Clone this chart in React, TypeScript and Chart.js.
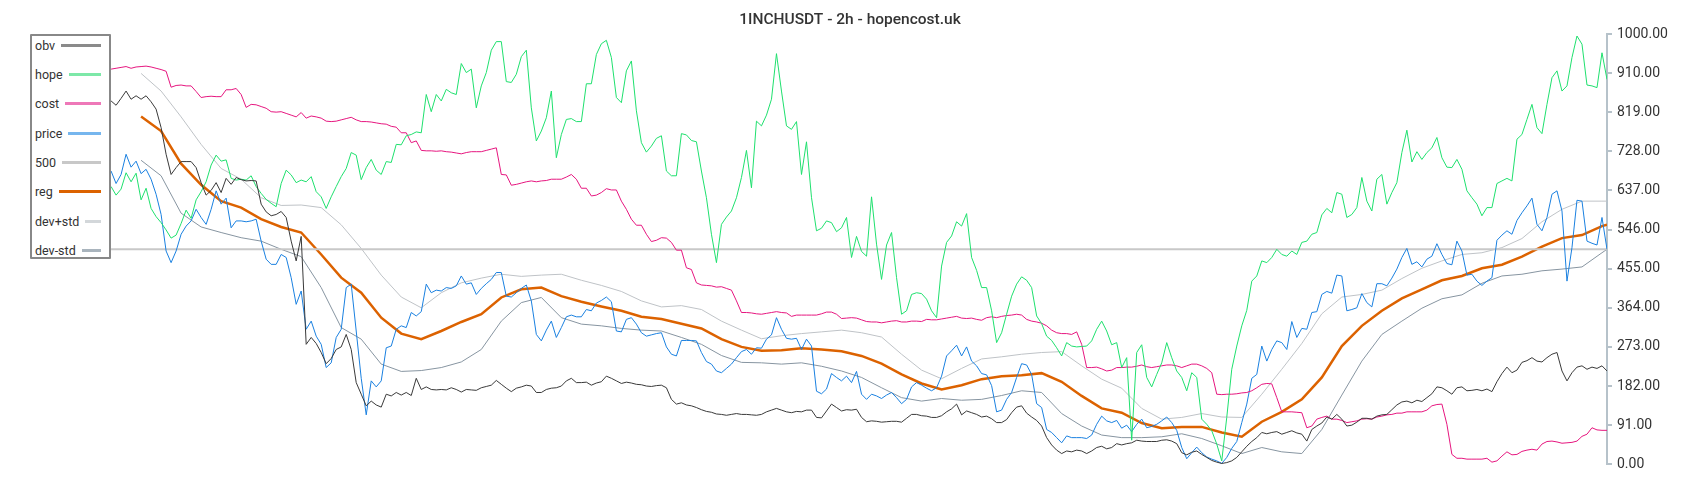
import React, { useEffect, useRef } from "react";
import { Chart, registerables } from "chart.js";

Chart.register(...registerables);
Chart.defaults.font.family = "Roboto, 'Noto Sans', sans-serif";

const TITLE = "1INCHUSDT - 2h - hopencost.uk";

const obv = [
  845, 835, 851, 868, 849, 857, 849, 857, 843, 826,
  783, 721, 674, 690, 704, 704, 704, 690, 655, 626,
  637, 655, 632, 665, 651, 667, 662, 659, 660, 659,
  605, 587, 578, 581, 588, 574, 519, 473, 530, 279,
  295, 281, 260, 234, 246, 267, 273, 302, 267, 190,
  163, 136, 147, 138, 133, 163, 159, 167, 161, 167,
  160, 200, 174, 180, 174, 173, 174, 173, 178, 174,
  168, 174, 173, 172, 178, 181, 184, 195, 186, 177,
  169, 177, 180, 184, 182, 167, 167, 174, 177, 178,
  182, 194, 200, 190, 190, 191, 184, 189, 192, 205,
  200, 194, 188, 191, 189, 186, 185, 182, 181, 183,
  184, 178, 151, 140, 143, 138, 136, 132, 127, 123,
  121, 117, 116, 114, 116, 118, 116, 116, 115, 114,
  116, 122, 126, 130, 126, 122, 120, 123, 122, 126,
  126, 109, 108, 124, 140, 132, 124, 127, 126, 128,
  109, 99, 101, 100, 98, 99, 100, 100, 98, 107,
  116, 116, 113, 112, 109, 109, 113, 122, 129, 140,
  115, 124, 120, 116, 110, 112, 106, 97, 97, 104,
  120, 133, 136, 119, 110, 102, 89, 62, 45, 33,
  25, 31, 29, 33, 31, 25, 31, 39, 42, 36,
  39, 48, 45, 48, 50, 56, 54, 53, 53, 53,
  56, 57, 54, 48, 27, 22, 28, 31, 23, 16,
  9, 5, 2, 4, 8, 16, 29, 42, 53, 62,
  74, 71, 74, 76, 70, 74, 78, 73, 70, 54,
  81, 89, 96, 110, 105, 116, 105, 89, 91, 98,
  107, 107, 105, 112, 115, 116, 127, 138, 145, 147,
  143, 149, 146, 155, 164, 180, 178, 171, 163, 178,
  180, 171, 172, 174, 171, 175, 169, 192, 211, 226,
  213, 219, 237, 241, 248, 240, 238, 248, 256, 260,
  217, 194, 213, 226, 229, 221, 226, 223, 229, 217,
];

const hope = [
  646, 626, 640, 678, 657, 677, 615, 642, 595, 576,
  562, 545, 526, 533, 560, 591, 572, 615, 634, 657,
  696, 719, 705, 708, 665, 661, 663, 661, 671, 646,
  630, 616, 607, 599, 653, 684, 673, 655, 661, 657,
  669, 634, 622, 595, 622, 646, 669, 688, 725, 719,
  662, 690, 709, 684, 674, 704, 702, 744, 743, 764,
  767, 773, 771, 860, 820, 860, 845, 872, 864, 860,
  932, 911, 919, 829, 880, 911, 963, 983, 983, 890,
  888, 907, 948, 963, 829, 752, 775, 806, 868, 713,
  767, 802, 804, 797, 797, 885, 885, 953, 978, 986,
  946, 853, 841, 915, 938, 822, 748, 726, 740, 758,
  764, 682, 671, 671, 769, 766, 753, 750, 682, 620,
  535, 469, 558, 575, 589, 620, 667, 730, 643, 798,
  787, 812, 849, 955, 868, 787, 779, 797, 674, 750,
  620, 543, 549, 566, 562, 541, 550, 574, 481, 530,
  495, 484, 622, 512, 430, 510, 539, 434, 349, 357,
  395, 399, 397, 384, 357, 341, 461, 516, 531, 564,
  554, 583, 481, 451, 411, 411, 357, 283, 306, 349,
  391, 419, 436, 428, 411, 345, 327, 298, 288, 271,
  252, 283, 275, 273, 274, 275, 287, 314, 333, 310,
  278, 283, 225, 248, 56, 260, 278, 202, 180, 209,
  236, 283, 248, 217, 202, 171, 213, 202, 105, 93,
  78, 47, 8, 109, 221, 275, 322, 358, 426, 438,
  473, 469, 481, 500, 488, 484, 496, 488, 516, 519,
  535, 539, 580, 595, 585, 632, 628, 574, 581, 597,
  667, 612, 589, 663, 674, 605, 632, 655, 725, 777,
  703, 727, 709, 725, 736, 760, 713, 691, 690, 709,
  686, 636, 620, 605, 578, 597, 597, 653, 659, 665,
  659, 756, 767, 802, 837, 783, 769, 837, 899, 915,
  868, 880, 946, 996, 977, 882, 880, 876, 957, 895,
];

const cost = [
  919, 921, 923, 925, 921, 924, 925, 926, 924, 921,
  918, 914, 877, 881, 882, 880, 880, 867, 853, 855,
  856, 855, 855, 871, 871, 874, 860, 830, 837, 836,
  832, 828, 820, 819, 820, 816, 812, 808, 818, 805,
  810, 808, 805, 798, 797, 798, 801, 804, 807, 801,
  797, 797, 796, 794, 792, 791, 786, 784, 771, 771,
  748, 752, 730, 729, 729, 728, 729, 727, 726, 724,
  722, 725, 727, 727, 727, 730, 733, 736, 674, 673,
  649, 651, 654, 657, 659, 657, 659, 660, 663, 663,
  663, 668, 674, 663, 642, 642, 624, 626, 632, 641,
  638, 638, 612, 593, 570, 556, 556, 535, 518, 521,
  527, 526, 516, 498, 498, 457, 453, 422, 417, 416,
  415, 412, 413, 409, 405, 380, 353, 353, 352, 350,
  349, 351, 353, 355, 353, 352, 344, 347, 347, 347,
  347, 347, 350, 354, 354, 349, 339, 340, 341, 340,
  336, 332, 331, 331, 329, 331, 333, 334, 331, 331,
  333, 333, 332, 337, 336, 336, 338, 340, 342, 344,
  340, 339, 340, 337, 335, 341, 343, 341, 344, 346,
  347, 349, 347, 337, 333, 331, 328, 322, 312, 306,
  304, 304, 302, 308, 279, 225, 225, 226, 222, 217,
  219, 225, 225, 226, 226, 228, 231, 227, 225, 227,
  229, 231, 231, 229, 225, 229, 233, 233, 229, 223,
  213, 163, 162, 163, 163, 164, 166, 167, 171, 178,
  186, 188, 187, 155, 122, 122, 122, 121, 120, 85,
  89, 105, 109, 112, 105, 105, 102, 97, 99, 101,
  105, 106, 105, 110, 112, 115, 116, 119, 119, 122,
  122, 122, 122, 126, 136, 139, 140, 93, 23, 14,
  14, 12, 12, 12, 12, 14, 5, 8, 19, 29,
  22, 23, 30, 33, 35, 33, 47, 53, 54, 52,
  49, 50, 51, 54, 65, 70, 85, 80, 79, 79,
];

const price = [
  682, 653, 674, 721, 691, 705, 676, 686, 663, 628,
  581, 496, 469, 496, 535, 554, 566, 593, 574, 558,
  593, 636, 605, 619, 550, 566, 566, 564, 566, 570,
  519, 477, 465, 465, 488, 481, 434, 372, 403, 314,
  333, 298, 279, 225, 236, 295, 314, 411, 419, 310,
  200, 115, 194, 180, 194, 271, 275, 314, 322, 318,
  353, 345, 355, 419, 399, 405, 403, 411, 409, 415,
  438, 419, 422, 395, 409, 420, 430, 446, 446, 391,
  389, 399, 409, 417, 380, 302, 287, 312, 333, 295,
  318, 343, 347, 343, 343, 360, 357, 375, 381, 389,
  378, 310, 308, 337, 341, 326, 306, 298, 301, 304,
  306, 273, 256, 252, 288, 288, 288, 287, 260, 239,
  233, 217, 213, 223, 233, 248, 262, 267, 256, 271,
  270, 291, 301, 341, 314, 293, 291, 293, 267, 291,
  275, 170, 164, 175, 211, 202, 194, 205, 190, 216,
  163, 151, 163, 159, 153, 161, 167, 155, 141, 151,
  180, 190, 184, 177, 171, 178, 205, 252, 264, 277,
  252, 273, 240, 229, 211, 208, 183, 122, 126, 151,
  167, 202, 234, 231, 209, 141, 132, 81, 74, 62,
  50, 66, 62, 62, 62, 60, 68, 93, 112, 101,
  97, 102, 84, 91, 76, 93, 105, 85, 88, 93,
  101, 110, 97, 79, 39, 13, 27, 40, 27, 17,
  12, 8, 2, 16, 37, 53, 97, 140, 200, 209,
  275, 240, 267, 287, 283, 267, 332, 295, 316, 314,
  353, 355, 395, 402, 398, 440, 438, 357, 360, 364,
  397, 376, 366, 420, 420, 415, 433, 454, 481, 502,
  465, 471, 459, 477, 484, 513, 488, 467, 464, 519,
  496, 440, 442, 426, 416, 426, 434, 521, 533, 543,
  535, 567, 585, 601, 619, 558, 543, 574, 628, 636,
  589, 426, 504, 614, 612, 519, 514, 510, 574, 500,
];

// indices (bars) at which the smooth series were read
const smoothIdx = [
  6, 10, 14, 18, 22, 26, 30, 34, 38, 42,
  46, 50, 54, 58, 62, 66, 70, 74, 78, 82,
  86, 90, 94, 98, 102, 106, 110, 114, 118, 122,
  126, 130, 134, 138, 142, 146, 150, 154, 158, 162,
  166, 170, 174, 178, 182, 186, 190, 194, 198, 202,
  206, 210, 214, 218, 222, 226, 230, 234, 238, 242,
  246, 250, 254, 258, 262, 266, 270, 274, 278, 282,
  286, 290, 294, 298, 299,
];

const reg = [
  809, 775, 699, 650, 612, 597, 570, 552, 539, 488,
  434, 399, 341, 304, 291, 310, 331, 349, 388, 407,
  411, 391, 378, 367, 357, 343, 338, 327, 316, 291,
  273, 264, 265, 270, 267, 263, 252, 234, 209, 188,
  174, 184, 198, 205, 207, 212, 192, 159, 130, 120,
  96, 84, 87, 87, 74, 64, 99, 122, 151, 202,
  275, 322, 357, 386, 407, 428, 438, 456, 464, 483,
  506, 526, 533, 554, 557,
];

const devPlus = [
  909, 868, 808, 744, 688, 663, 620, 602, 603, 597,
  557, 502, 440, 389, 364, 399, 422, 433, 442, 437,
  440, 442, 428, 416, 402, 380, 366, 369, 360, 333,
  312, 292, 299, 304, 308, 312, 306, 296, 256, 219,
  199, 223, 245, 250, 256, 260, 262, 229, 198, 177,
  130, 105, 109, 118, 110, 109, 163, 221, 281, 350,
  389, 395, 405, 432, 456, 473, 488, 492, 504, 525,
  564, 593, 612, 612, 612,
];

const devMinus = [
  707, 671, 584, 552, 539, 527, 519, 500, 483, 411,
  318, 291, 233, 216, 218, 225, 238, 267, 333, 376,
  388, 341, 326, 322, 316, 312, 310, 295, 279, 253,
  237, 236, 233, 236, 228, 217, 202, 178, 155, 147,
  153, 149, 151, 160, 171, 167, 118, 89, 68, 62,
  62, 64, 71, 60, 43, 25, 39, 29, 25, 81,
  161, 240, 302, 333, 363, 385, 394, 421, 438, 442,
  450, 454, 459, 492, 500,
];

const LEVEL = 500;
const yTicks = [0, 91, 182, 273, 364, 455, 546, 637, 728, 819, 910, 1000];

const LAST = obv.length - 1;

const full = (arr: number[]) => arr.map((y, i) => ({ x: i, y }));
const sparse = (arr: number[]) => arr.map((y, k) => ({ x: smoothIdx[k], y }));

const series = [
  { label: "obv", data: full(obv), color: "#3a3a3a", swatch: "#8a8a8a", width: 1 },
  { label: "hope", data: full(hope), color: "#1fe06e", swatch: "#7de8a8", width: 1 },
  { label: "cost", data: full(cost), color: "#e6167f", swatch: "#ee78b8", width: 1 },
  { label: "price", data: full(price), color: "#1a80e0", swatch: "#76b6ee", width: 1 },
  { label: "500", data: [{ x: 0, y: LEVEL }, { x: LAST, y: LEVEL }], color: "#c8c8c8", swatch: "#c8c8c8", width: 2 },
  { label: "reg", data: sparse(reg), color: "#dc6200", swatch: "#dc6200", width: 2.5 },
  { label: "dev+std", data: sparse(devPlus), color: "#bfc3c7", swatch: "#d3d7da", width: 1 },
  { label: "dev-std", data: sparse(devMinus), color: "#8795a1", swatch: "#a9b4bd", width: 1 },
];

export default function App() {
  const ref = useRef<HTMLCanvasElement>(null);

  useEffect(() => {
    const canvas = ref.current;
    if (!canvas) return;
    const chart = new Chart(canvas, {
      type: "line",
      data: {
        datasets: series.map((s) => ({
          label: s.label,
          data: s.data,
          borderColor: s.color,
          backgroundColor: s.color,
          borderWidth: s.width,
          pointRadius: 0,
          tension: 0,
          fill: false,
        })),
      },
      options: {
        responsive: false,
        animation: false,
        layout: { padding: { left: 0, right: 0, top: 0, bottom: 27.7 } },
        plugins: {
          legend: { display: false },
          tooltip: { enabled: false },
          title: {
            display: true,
            text: TITLE,
            color: "#333",
            font: { size: 15.5, weight: "500" },
            padding: { top: 3, bottom: 4.7 },
          },
        },
        scales: {
          x: { type: "linear", min: -20.6, max: LAST, display: false },
          y: {
            position: "right",
            min: 0,
            max: 1000,
            afterBuildTicks: (s: any) => {
              s.ticks = yTicks.map((v) => ({ value: v }));
            },
            afterFit: (s: any) => {
              s.width = 85;
            },
            ticks: {
              callback: (v: any) => Number(v).toFixed(2),
              color: "#333",
              font: { size: 14 },
              padding: 5,
            },
            grid: { drawOnChartArea: false, tickLength: 5, color: "#b6c2ca", lineWidth: 2 },
            border: { color: "#b6c2ca", width: 2 },
          },
        },
      },
    });
    return () => chart.destroy();
  }, []);

  return (
    <div style={{ position: "relative", width: 1684, height: 484 }}>
      <canvas ref={ref} width={1684} height={484} style={{ display: "block" }} />
      <div
        style={{
          position: "absolute",
          left: 22,
          top: 26.3,
          width: 81,
          height: 225,
          boxSizing: "border-box",
          border: "2px solid #888",
          borderRadius: 1,
          background: "#fff",
          fontFamily: "Roboto, sans-serif",
          fontSize: 12.5,
          color: "#333",
        }}
      >
        {series.map((s, k) => (
          <div
            key={s.label}
            style={{
              position: "absolute",
              left: 3,
              right: 8.3,
              top: 9 + k * 29.3 - 8,
              height: 16,
              display: "flex",
              alignItems: "center",
            }}
          >
            <span style={{ whiteSpace: "nowrap" }}>{s.label}</span>
            <span
              style={{
                flex: 1,
                height: 3,
                marginLeft: 6,
                background: s.swatch,
              }}
            />
          </div>
        ))}
      </div>
    </div>
  );
}
